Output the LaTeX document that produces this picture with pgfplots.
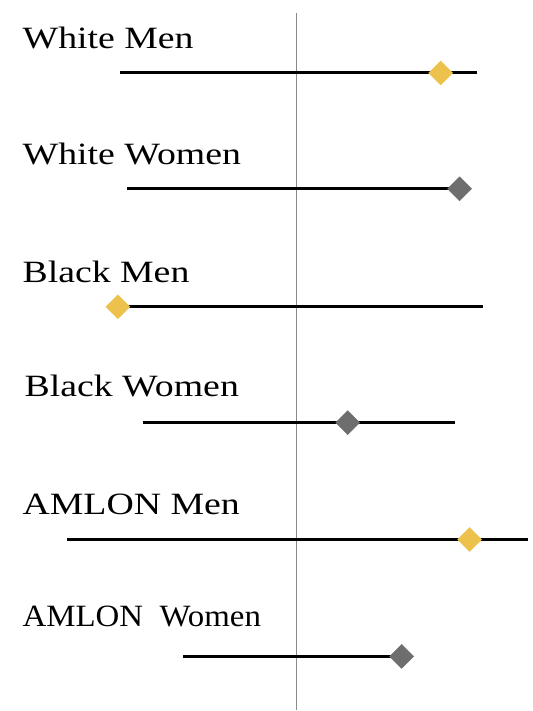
\documentclass[border=0pt]{standalone}
\usepackage{fontspec}
\setmainfont{Liberation Serif}[FakeStretch=1.22]
\usepackage{pgfplots}
\pgfplotsset{compat=1.18}
\usepackage{pgfplotstable}

\definecolor{gold}{HTML}{EDC24C}
\definecolor{dgray}{HTML}{6E6E6E}
\definecolor{refline}{HTML}{8A8A8A}

\tikzset{lbl/.style={anchor=base west, inner sep=0pt,
    font=\fontsize{31bp}{34bp}\selectfont}}

% y = row position, lo/hi = interval, est = point estimate
\pgfplotstableread{
y      lo     est    hi
-0.73 -1.77   1.44   1.80
-3.07 -1.79  -1.79   1.86
-5.40 -2.30   1.73   2.31
}\menrows
\pgfplotstableread{
y      lo     est    hi
-1.89 -1.70   1.63   1.63
-4.23 -1.54   0.51   1.58
-6.57 -1.14   1.05   1.08
}\womenrows

\begin{document}
\begin{tikzpicture}
\begin{axis}[
    width=533bp, height=711bp,
    scale only axis,
    xmin=-2.97, xmax=2.36,
    ymin=-7.11, ymax=0,
    axis line style={draw=none},
    xtick=\empty, ytick=\empty,
    clip=false,
    interval/.style={only marks, mark=none,
        error bars/.cd, x dir=both, x explicit, error mark=none,
        error bar style={black, line width=3bp}},
    est/.style={only marks, color=#1, mark=square*, mark size=8.5bp,
        mark options={rotate=45, draw=none, fill=#1}},
]
% reference line
\addplot[refline, line width=1.2bp] coordinates {(0,-0.13) (0,-7.11)};

% intervals
\addplot[interval] table[x=est, y=y,
    x error plus expr=\thisrow{hi}-\thisrow{est},
    x error minus expr=\thisrow{est}-\thisrow{lo}] {\menrows};
\addplot[interval] table[x=est, y=y,
    x error plus expr=\thisrow{hi}-\thisrow{est},
    x error minus expr=\thisrow{est}-\thisrow{lo}] {\womenrows};

% point estimates
\addplot[est=gold] table[x=est, y=y] {\menrows};
\addplot[est=dgray] table[x=est, y=y] {\womenrows};

% row labels
\node[lbl] at (axis cs:-2.746,-0.49) {White Men};
\node[lbl] at (axis cs:-2.746,-1.65) {White Women};
\node[lbl] at (axis cs:-2.746,-2.83) {Black Men};
\node[lbl] at (axis cs:-2.725,-3.97) {Black Women};
\node[lbl] at (axis cs:-2.746,-5.15) {AMLON Men};
\node[lbl] at (axis cs:-2.746,-6.27) {\scalebox{0.87}[1]{AMLON\ \ Women}};
\end{axis}
\end{tikzpicture}
\end{document}
